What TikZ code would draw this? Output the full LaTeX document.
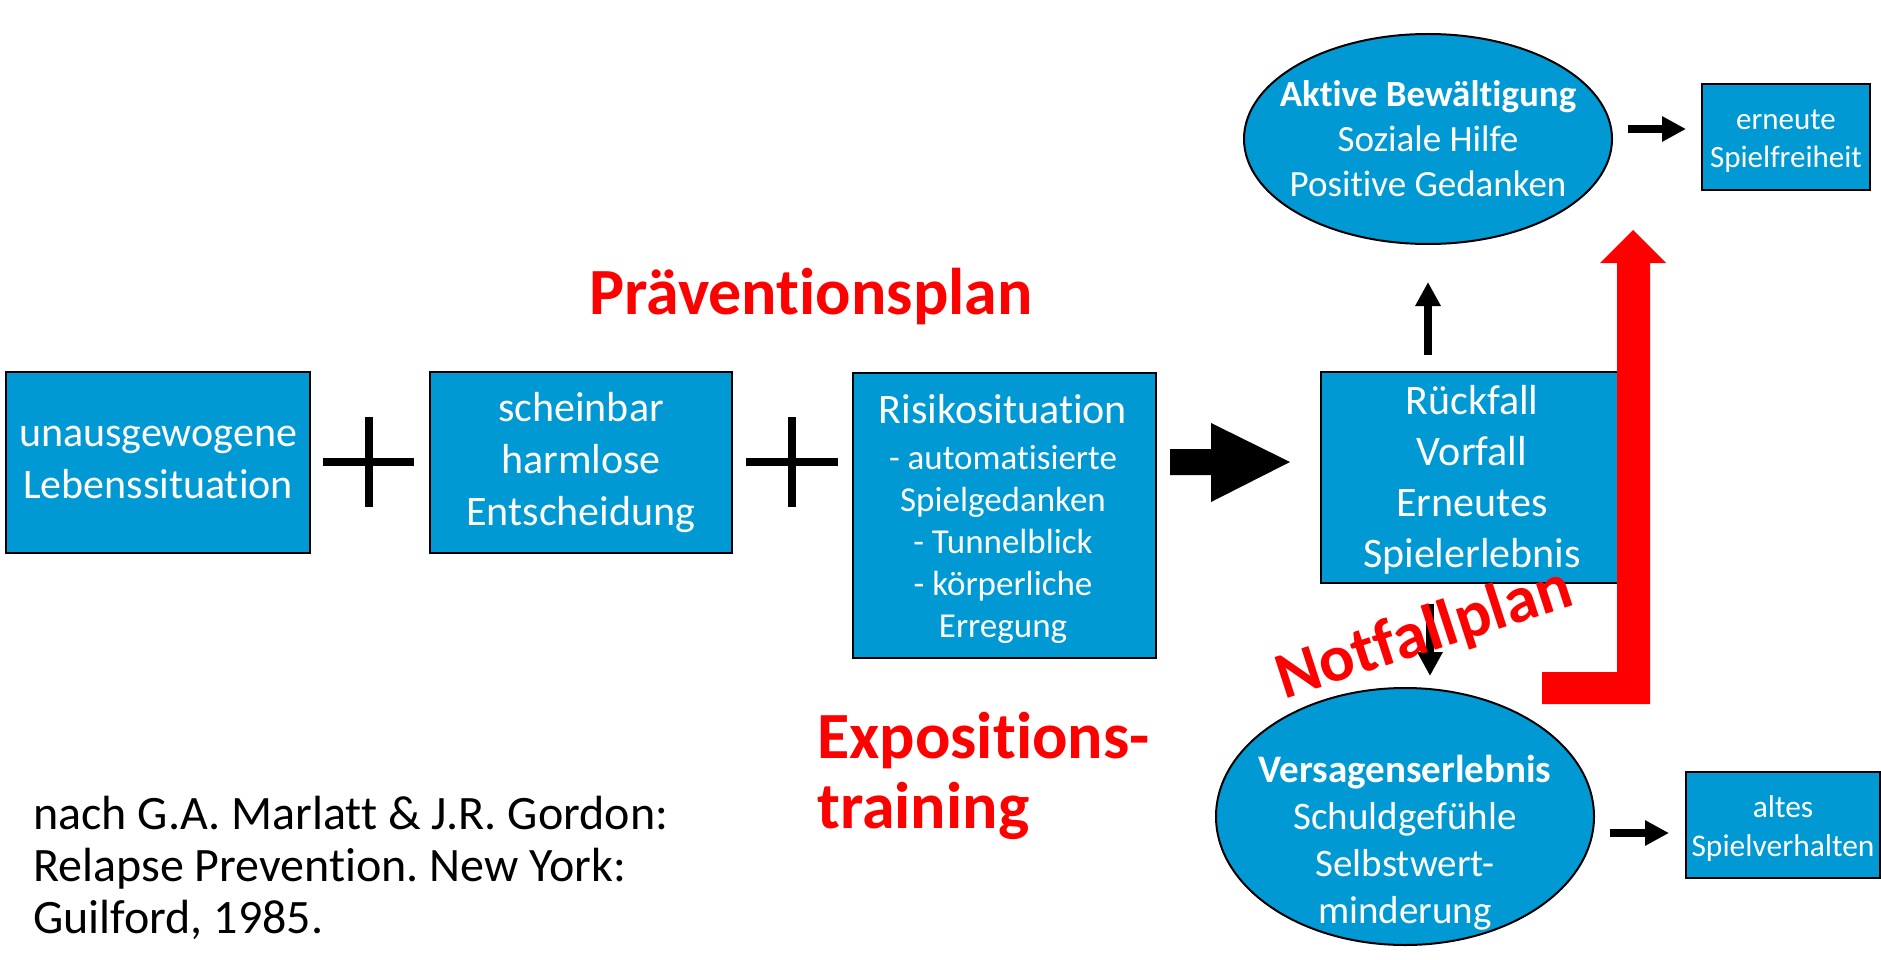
\documentclass[tikz,border=0pt]{standalone}
\usepackage{fontspec}
\setmainfont{Carlito}[Ligatures={NoCommon}]
\frenchspacing
\usetikzlibrary{arrows.meta,shapes.geometric}
\definecolor{bluefill}{RGB}{0,153,212}
\definecolor{redc}{RGB}{255,0,0}
\tikzset{
  box/.style={draw=black, line width=2pt, fill=bluefill, text=white, inner sep=0pt, align=center},
  ell/.style={ellipse, draw=black, line width=2pt, fill=bluefill, inner sep=0pt},
  wtxt/.style={text=white, inner sep=0pt, align=center},
  redtxt/.style={text=redc, inner sep=0pt, font=\fontsize{66}{72}\selectfont\bfseries},
  plusbar/.style={line width=8pt, draw=black},
  arr/.style={line width=8pt, -{Triangle[length=24pt,width=24pt]}},
}
\begin{document}
\begin{tikzpicture}[x=1pt,y=-1pt]
\useasboundingbox (0,0) rectangle (1881,960);

% boxes
\node[box, minimum width=304pt, minimum height=181pt, font=\fontsize{42}{52}\selectfont] (b1) at (158,462.5) {unausgewogene\\Lebenssituation};
\node[box, minimum width=302pt, minimum height=181pt, font=\fontsize{42}{52}\selectfont] (b2) at (581,462.5) {scheinbar\\harmlose\\Entscheidung};
\node[box, minimum width=303pt, minimum height=285pt] (b3) at (1004.5,515) {};
\node[wtxt, font=\fontsize{35}{42}\selectfont] (b3t) at (1003,519) {{\fontsize{42}{46}\selectfont Risikosituation}\\[4pt] - automatisierte\\ Spielgedanken\\ - Tunnelblick\\ - körperliche\\ Erregung};
\node[box, minimum width=299pt, minimum height=211pt] (b4) at (1470.5,477.5) {};
\node[wtxt, font=\fontsize{42}{51}\selectfont] (b4t) at (1472,480) {Rückfall\\Vorfall\\Erneutes\\Spielerlebnis};

% plus signs
\draw[plusbar] (323,462) -- (414,462) (368.5,417) -- (368.5,507);
\draw[plusbar] (746,462) -- (838,462) (792,417) -- (792,507);

% big black block arrow
\fill[black] (1170,449) -- (1211,449) -- (1211,423) -- (1290,462) -- (1211,502) -- (1211,475) -- (1170,475) -- cycle;

% ellipses
\node[ell, minimum width=368pt, minimum height=210pt] (e1) at (1428,139) {};
\node[wtxt, font=\fontsize{37}{45}\selectfont] (e1t) at (1428,139) {\textbf{Aktive Bewältigung}\\Soziale Hilfe\\Positive Gedanken};
\node[ell, minimum width=378pt, minimum height=257pt] (e2) at (1405,816.5) {};
\node[wtxt, font=\fontsize{39}{47}\selectfont] (e2t) at (1405,843) {\textbf{Versagenserlebnis}\\Schuldgefühle\\Selbstwert-\\minderung};

% small result boxes
\node[box, minimum width=168pt, minimum height=106pt] (s1) at (1786,137) {};
\node[wtxt, font=\fontsize{31}{38}\selectfont] (s1t) at (1786,141) {erneute\\Spielfreiheit};
\node[box, minimum width=194pt, minimum height=106pt] (s2) at (1783,825) {};
\node[wtxt, font=\fontsize{31.5}{39}\selectfont] (s2t) at (1783,829) {altes\\Spielverhalten};

% small arrows
\draw[arr, shorten <=16pt, shorten >=37pt] (e1.south |- b4.north) -- (e1.south);
\draw[arr, shorten <=20pt, shorten >=11pt] ([xshift=-40.5pt]b4.south) -- ([xshift=-40.5pt]b4.south |- e2.north);
\draw[arr] ([shift={(15,-10)}]e1.east) -- ([shift={(-15,-8)}]s1.west);
\draw[arr] ([shift={(15,16.5)}]e2.east) -- ([shift={(-16,8)}]s2.west);

% red L arrow (Notfallplan)
\fill[redc] (1542,672) -- (1617,672) -- (1617,263) -- (1600,263) -- (1633,230) -- (1666,263) -- (1650,263) -- (1650,704) -- (1542,704) -- cycle;

% red labels
\node[redtxt, anchor=base] (praev) at (811,314) {Präventionsplan};
\node[redtxt, anchor=base west] (expo1) at (817,758) {Expositions-};
\node[redtxt, anchor=base west] (expo2) at (817,828) {training};
\node[redtxt, anchor=base, rotate=18] (notf) at (1430,652) {Notfallplan};

% reference
\node[inner sep=0pt, anchor=base west, font=\fontsize{48}{52}\selectfont] (ref1) at (33,829) {nach G.A. Marlatt \& J.R. Gordon:};
\node[inner sep=0pt, anchor=base west, font=\fontsize{48}{52}\selectfont] (ref2) at (33,881) {Relapse Prevention. New York:};
\node[inner sep=0pt, anchor=base west, font=\fontsize{48}{52}\selectfont] (ref3) at (33,933) {Guilford, 1985.};
\end{tikzpicture}
\end{document}
